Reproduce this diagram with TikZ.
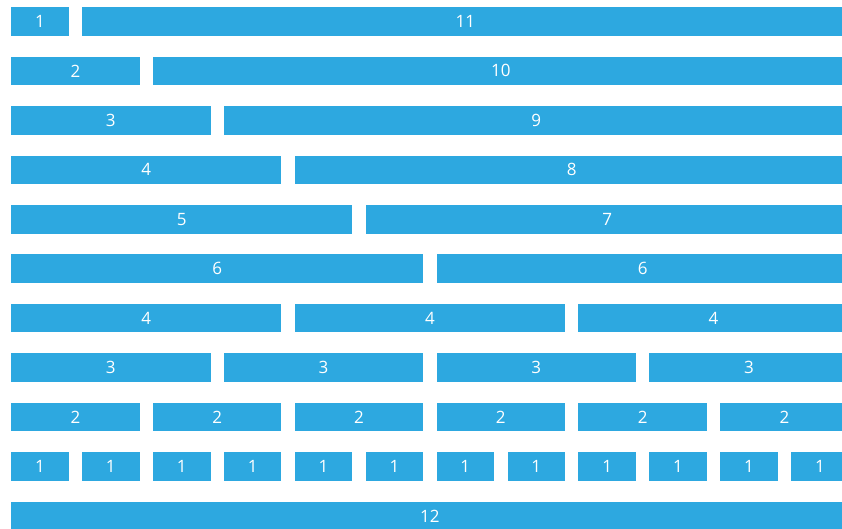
\documentclass[tikz,border=0pt]{standalone}
\usepackage{fontspec}
\setmainfont{Open Sans}
\definecolor{gridblue}{RGB}{45,168,224}
\begin{document}
\begin{tikzpicture}[x=1pt,y=-1pt,
  cell/.style={fill=gridblue,draw=none,inner sep=0pt,anchor=north west,
    minimum height=28.5pt,text=white,font=\fontsize{17}{17}\selectfont},
]
\useasboundingbox (0,0) rectangle (842,529);
\clip (0,0) rectangle (842,529);
\def\pitch{70.9}
\def\rowp{49.45}
% \cellat{name}{row}{startcol}{span}{label}
\newcommand\cellat[5]{%
  \pgfmathsetmacro\cx{11+#3*\pitch}%
  \pgfmathsetmacro\cy{7+#2*\rowp}%
  \pgfmathsetmacro\cw{#4*\pitch-13.4}%
  \node[cell,minimum width=\cw pt] (#1) at (\cx,\cy) {#5};}
\cellat{a1}{0}{0}{1}{1}\cellat{a2}{0}{1}{11}{11}
\cellat{b1}{1}{0}{2}{2}\cellat{b2}{1}{2}{10}{10}
\cellat{c1}{2}{0}{3}{3}\cellat{c2}{2}{3}{9}{9}
\cellat{d1}{3}{0}{4}{4}\cellat{d2}{3}{4}{8}{8}
\cellat{e1}{4}{0}{5}{5}\cellat{e2}{4}{5}{7}{7}
\cellat{f1}{5}{0}{6}{6}\cellat{f2}{5}{6}{6}{6}
\cellat{g1}{6}{0}{4}{4}\cellat{g2}{6}{4}{4}{4}\cellat{g3}{6}{8}{4}{4}
\cellat{h1}{7}{0}{3}{3}\cellat{h2}{7}{3}{3}{3}\cellat{h3}{7}{6}{3}{3}\cellat{h4}{7}{9}{3}{3}
\cellat{i1}{8}{0}{2}{2}\cellat{i2}{8}{2}{2}{2}\cellat{i3}{8}{4}{2}{2}
\cellat{i4}{8}{6}{2}{2}\cellat{i5}{8}{8}{2}{2}\cellat{i6}{8}{10}{2}{2}
\foreach \k in {0,...,11}{\cellat{j\k}{9}{\k}{1}{1}}
\cellat{k1}{10}{0}{12}{12}
\end{tikzpicture}
\end{document}
